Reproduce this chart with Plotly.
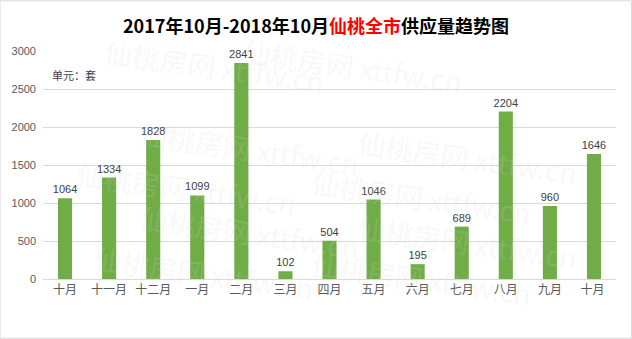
import plotly.graph_objects as go

categories = ["十月", "十一月", "十二月", "一月", "二月", "三月", "四月", "五月", "六月", "七月", "八月", "九月", "十月 "]
values = [1064, 1334, 1828, 1099, 2841, 102, 504, 1046, 195, 689, 2204, 960, 1646]
y_ticks = [0, 500, 1000, 1500, 2000, 2500, 3000]

fig = go.Figure()
fig.add_trace(go.Bar(
    x=list(range(len(categories))), y=values,
    marker=dict(color="#70AD47", line=dict(width=0)),
    text=[str(v) for v in values], textposition="outside",
    textfont=dict(family="Liberation Sans, Arial", size=11, color="#404040"),
    constraintext="none",
    cliponaxis=False, width=0.32,
))

# faint watermarks
wm = "仙桃房网 xttfw.cn"
for (x, y) in [(0.1, 1.1), (0.74, 1.1), (0.36, 0.74), (0.94, 0.7), (0.05, 0.4), (0.66, 0.36),
               (0.36, 0.04), (0.94, 0.0), (0.08, -0.14), (0.66, -0.16)]:
    fig.add_annotation(x=x, y=y, xref="paper", yref="paper", text=wm, showarrow=False,
                       textangle=8, font=dict(family="Noto Sans CJK SC", size=28, color="rgba(215,215,215,0.18)"))

fig.add_annotation(x=0.012, y=2690, xref="paper", yref="y", text="单元：套", showarrow=False,
                   xanchor="left", font=dict(family="Noto Sans CJK SC", size=11, color="#404040"))

fig.add_shape(type="rect", xref="paper", yref="paper", x0=-0.075, x1=1.027, y0=-0.26, y1=1.22,
              line=dict(color="#D9D9D9", width=1))

fig.update_layout(
    width=632, height=339,
    margin=dict(l=43, r=16, t=51, b=60),
    paper_bgcolor="white", plot_bgcolor="white",
    showlegend=False,
    uniformtext=dict(minsize=11, mode="show"),
    title=dict(text="<b>2017年10月-2018年10月<span style='color:#FF0000'>仙桃全市</span>供应量趋势图</b>",
               x=0.5, xanchor="center", y=0.92, yanchor="middle",
               font=dict(family="Noto Sans CJK SC", size=18, color="#000000")),
    xaxis=dict(tickmode="array", tickvals=list(range(len(categories))), ticktext=categories,
               range=[-0.5, len(categories) - 0.5], showgrid=False, zeroline=False,
               showline=True, linecolor="#D9D9D9", ticks="",
               tickfont=dict(family="Noto Sans CJK SC", size=12, color="#595959")),
    yaxis=dict(range=[0, 3000], tickvals=y_ticks, showgrid=True, gridcolor="#D9D9D9",
               zeroline=False, ticks="", ticklabelstandoff=6,
               tickfont=dict(family="Liberation Sans, Arial", size=11, color="#595959")),
)

fig.write_html("out.html")
